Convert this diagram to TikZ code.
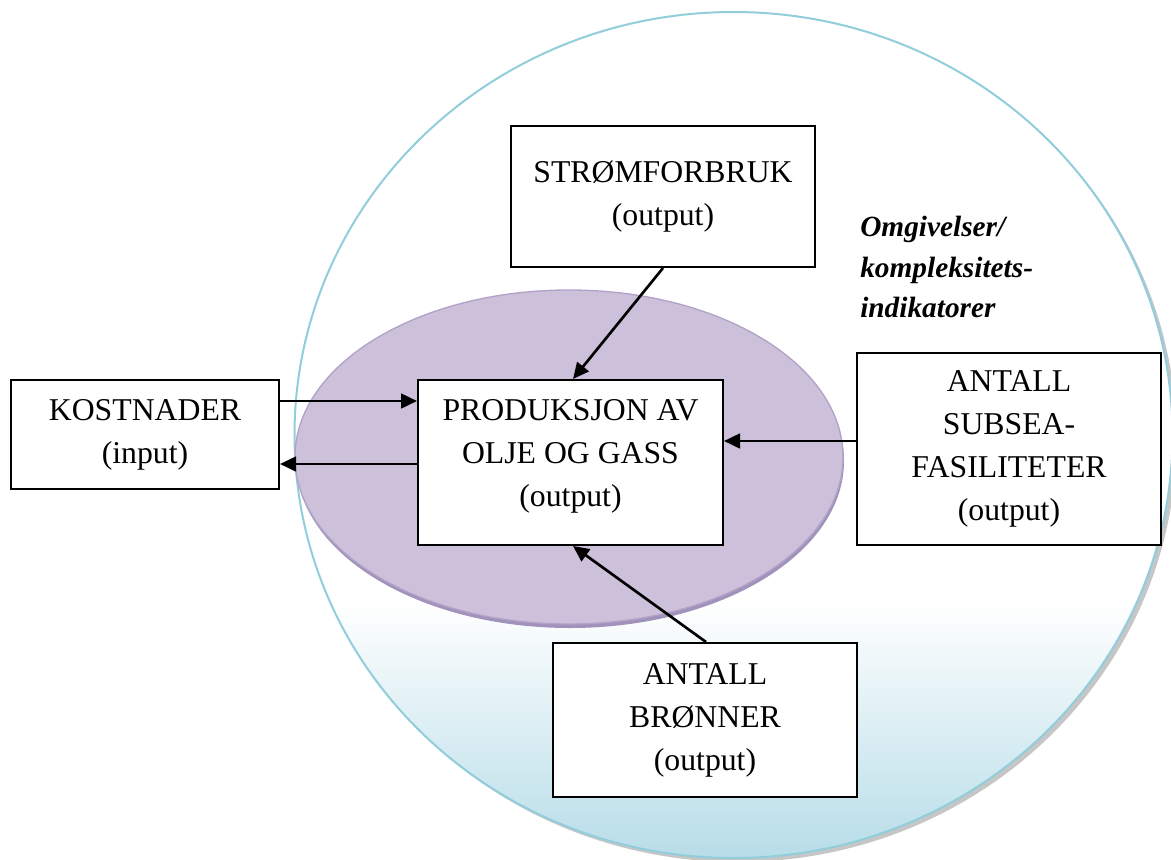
\documentclass[tikz,border=0pt]{standalone}
\usepackage{fontspec}
\setmainfont{Liberation Serif}
\usetikzlibrary{arrows.meta,calc}
\definecolor{circblue}{HTML}{B7DDE8}
\definecolor{circline}{HTML}{92CDDC}
\definecolor{purfill}{HTML}{CCC0DA}
\definecolor{purline}{HTML}{B3A2C7}
\definecolor{purshadow}{HTML}{A092BA}
\pgfdeclareverticalshading{circshade}{100bp}{color(0bp)=(circblue); color(25bp)=(circblue); color(40bp)=(white); color(100bp)=(white)}
\tikzset{
  box/.style={draw=black, line width=1.5pt, fill=white, inner sep=0pt, align=center,
    font=\fontsize{23.8}{32.25}\selectfont},
  txt/.style={inner sep=0pt, align=center, font=\fontsize{23.8}{32.25}\selectfont},
  conn/.style={line width=2pt, -{Triangle[length=12pt,width=11pt]}},
}
\begin{document}
\begin{tikzpicture}[x=0.75pt,y=-0.75pt]
\useasboundingbox (0,0) rectangle (1171,860);
% outer circle (environment)
\fill[gray!45] (737.5,439) ellipse [x radius=439, y radius=423];
\shade[shading=circshade, draw=circline, line width=1.5pt] (733.5,435) ellipse [x radius=439, y radius=423];
% inner ellipse (system)
\fill[purshadow] (570,461) ellipse [x radius=274, y radius=167];
\filldraw[fill=purfill, draw=purline, line width=1pt] (569,457) ellipse [x radius=274, y radius=167];
% boxes
\node[box, minimum width=228pt, minimum height=105.75pt] (strom) at (663,196.5) {STRØMFORBRUK\\(output)};
\node[box, minimum width=201pt, minimum height=81.75pt] (kost) at (145,434.5) {KOSTNADER\\(input)};
\node[box, minimum width=228.75pt, minimum height=123.75pt] (prod) at (570.5,462.5) {};
\node[txt] (prodtxt) at (570.5,456) {PRODUKSJON AV\\OLJE OG GASS\\(output)};
\node[box, minimum width=228pt, minimum height=144pt] (subsea) at (1009,449) {ANTALL\\SUBSEA-\\FASILITETER\\(output)};
\node[box, minimum width=228pt, minimum height=115.5pt] (bron) at (705,720) {ANTALL\\BRØNNER\\(output)};
% label
\node[inner sep=0pt, align=left, anchor=west, font=\fontsize{22}{30.4}\selectfont\bfseries\itshape] (omg) at (860,267) {Omgivelser/\\kompleksitets-\\indikatorer};
% connectors
\draw[conn] (strom.south) -- ($(prod.north)+(2.5,0)$);
\draw[conn] ($(kost.east)+(0,-33.5)$) -- ($(prod.west)+(0,-61.5)$);
\draw[conn] ($(prod.west)+(0,1.5)$) -- ($(kost.east)+(0,29.5)$);
\draw[conn] ($(subsea.west)+(0,-8)$) -- ($(prod.east)+(0,-21.5)$);
\draw[conn] ($(bron.north)+(1,0)$) -- ($(prod.south)+(2.5,0)$);
\end{tikzpicture}
\end{document}
